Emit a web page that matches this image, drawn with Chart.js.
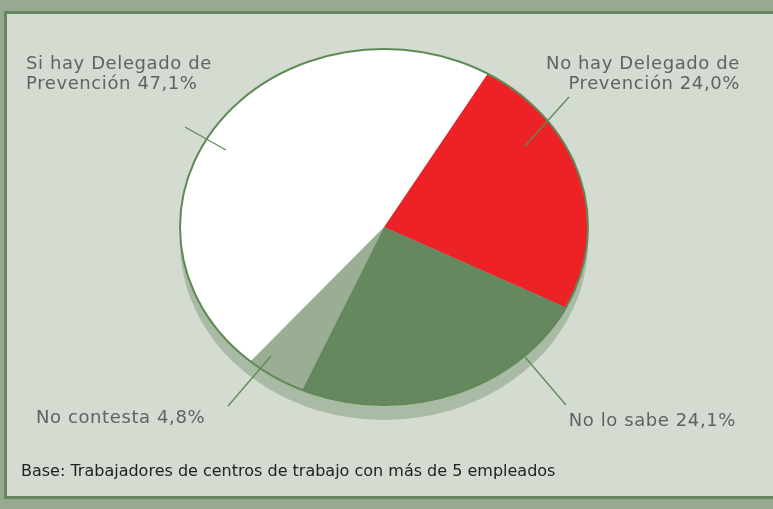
<!DOCTYPE html>
<html>
<head>
<meta charset="utf-8">
<script src="https://cdn.jsdelivr.net/npm/chart.js@4/dist/chart.umd.min.js"></script>
<style>
html, body { margin: 0; padding: 0; background: #97a98f; }
canvas { display: block; }
</style>
</head>
<body>
<canvas id="pieChart" width="773" height="509"></canvas>
<script>
// datos
var nombres = [
  ['No hay Delegado de', 'Prevención'],
  ['No lo sabe'],
  ['No contesta'],
  ['Si hay Delegado de', 'Prevención']
];
var puntos = [24.0, 24.1, 4.8, 47.1];
var colores = ['#ec2227', '#66885e', '#9aae93', '#ffffff'];
var nota = 'Base: Trabajadores de centros de trabajo con más de 5 empleados';

var aplanar = 0.8725;   // pie is drawn as an ellipse
var sombra = 15;        // depth of the 3D edge

// where each label goes: x, baseline y, align, leader line
var etiquetas = [
  { x: 740, y: 69, align: 'right', linea: [569, 97, 525, 146] },
  { x: 736, y: 426, align: 'right', linea: [525, 357, 566, 405] },
  { x: 36, y: 423, align: 'left', linea: [228, 406, 271, 356] },
  { x: 26, y: 69, align: 'left', linea: [185, 127, 226, 150] }
];

function fmt(v) {
  return v.toFixed(1).replace('.', ',') + '%';
}

var panel = {
  id: 'panel',
  beforeDraw: function(chart) {
    var c = chart.ctx;
    c.save();
    c.fillStyle = '#d4dbd1';
    c.fillRect(5, 12, 780, 486);
    c.strokeStyle = '#668660';
    c.lineWidth = 3;
    c.strokeRect(5.5, 12.5, 790, 485);
    c.restore();
  }
};

var elipse = {
  id: 'elipse',
  beforeDatasetsDraw: function(chart) {
    var arc = chart.getDatasetMeta(0).data[0];
    var c = chart.ctx;
    var r = arc.outerRadius;
    c.save();
    c.fillStyle = '#aabba5';
    c.beginPath();
    c.ellipse(arc.x, arc.y + sombra, r, r * aplanar, 0, 0, Math.PI * 2);
    c.fill();
    c.restore();
    c.save();
    c.translate(arc.x, arc.y);
    c.scale(1, aplanar);
    c.translate(-arc.x, -arc.y);
  },
  afterDatasetsDraw: function(chart) {
    var c = chart.ctx;
    c.restore();
    var arc = chart.getDatasetMeta(0).data[0];
    var r = arc.outerRadius;
    c.save();
    c.strokeStyle = '#5f8a55';
    c.lineWidth = 2;
    c.beginPath();
    c.ellipse(arc.x, arc.y, r, r * aplanar, 0, 0, Math.PI * 2);
    c.stroke();

    // leader lines and labels
    c.strokeStyle = '#5f8a55';
    c.lineWidth = 1.3;
    c.font = '18px "DejaVu Sans"';
    c.letterSpacing = '0.6px';
    c.fillStyle = '#5f6266';
    for (var i = 0; i < nombres.length; i++) {
      var e = etiquetas[i];
      c.beginPath();
      c.moveTo(e.linea[0], e.linea[1]);
      c.lineTo(e.linea[2], e.linea[3]);
      c.stroke();
      c.textAlign = e.align;
      c.textBaseline = 'alphabetic';
      for (var j = 0; j < nombres[i].length; j++) {
        var txt = nombres[i][j];
        if (j == nombres[i].length - 1) txt += ' ' + fmt(puntos[i]);
        c.fillText(txt, e.x, e.y + j * 20);
      }
    }

    c.font = '16px "DejaVu Sans"';
    c.letterSpacing = '0px';
    c.fillStyle = '#222222';
    c.textAlign = 'left';
    c.fillText(nota, 21, 476);
    c.restore();
  }
};

var ctx = document.getElementById('pieChart').getContext('2d');
var myPie = new Chart(ctx, {
  type: 'pie',
  data: {
    labels: nombres.map(function(n) { return n.join(' '); }),
    datasets: [{
      data: puntos,
      backgroundColor: colores,
      borderWidth: 0
    }]
  },
  options: {
    responsive: false,
    animation: false,
    events: [],
    rotation: 30.5,
    layout: { padding: { left: 180, right: 185, top: 23, bottom: 78 } },
    plugins: {
      legend: { display: false },
      tooltip: { enabled: false },
      title: { display: false }
    }
  },
  plugins: [panel, elipse]
});
</script>
</body>
</html>
